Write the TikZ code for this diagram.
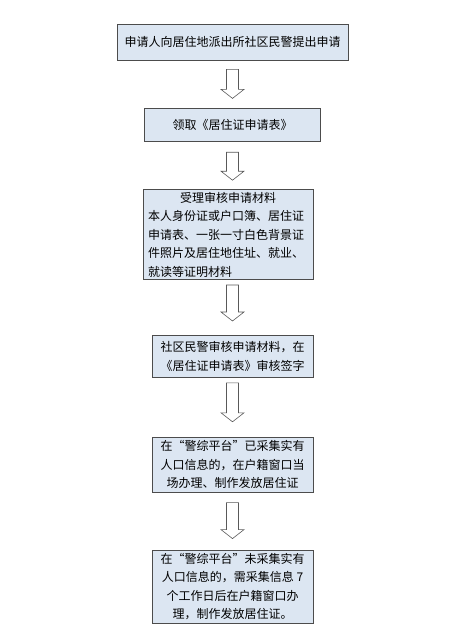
\documentclass[tikz,border=0pt]{standalone}
\usepackage{fontspec}
\setmainfont{Noto Sans CJK SC}
\usetikzlibrary{positioning,calc}
\definecolor{boxblue}{HTML}{DCE6F2}
% hollow block arrow between two boxes: from, to, top gap, bottom gap
\newcommand{\flowarrow}[4]{%
  \draw[bigarrow] let \p1=(axis), \p2=($(#1.south)+(0,-#3pt)$), \p3=($(#2.north)+(0,#4pt)$) in
    (\x1-6pt,\y2) -- (\x1+6pt,\y2) -- (\x1+6pt,\y3+9pt) -- (\x1+11.5pt,\y3+9pt) -- (\x1,\y3)
    -- (\x1-11.5pt,\y3+9pt) -- (\x1-6pt,\y3+9pt) -- cycle;}
\begin{document}
\begin{tikzpicture}[font=\fontsize{12pt}{18.5pt}\selectfont,
  stepbox/.style={rectangle, draw=black!70, line width=0.8pt, fill=boxblue, inner sep=0pt, align=center},
  bigarrow/.style={draw=black!65, line width=0.6pt, fill=white, line join=miter}]
\useasboundingbox (0,0) rectangle (468pt,-640pt);
\coordinate (axis) at (232.5pt,0);

% Верх
\node (apply) [stepbox, minimum width=231pt, minimum height=36pt] at (232.5pt,-42pt) {申请人向居住地派出所社区民警提出申请};
\node (form) [stepbox, minimum width=176pt, minimum height=33pt, below=48pt of apply] {领取《居住证申请表》};

% Материалы
\node (accept) [stepbox, minimum width=170pt, minimum height=90pt, text width=160pt, align=left, below=47pt of form, xshift=-4.5pt] {\makebox[\hsize][c]{受理审核申请材料}\\本人身份证或户口簿、居住证\\申请表、一张一寸白色背景证\\件照片及居住地住址、就业、\\就读等证明材料};
\node (check) [stepbox, minimum width=161pt, minimum height=42pt, below=55pt of accept, xshift=4.5pt] {社区民警审核申请材料，在\\《居住证申请表》审核签字};

% Выдача
\node (issue) [stepbox, minimum width=161pt, minimum height=55pt, below=59pt of check] {在“警综平台”已采集实有\\人口信息的，在户籍窗口当\\场办理、制作发放居住证};
\node (collect) [stepbox, minimum width=161pt, minimum height=73pt, below=57pt of issue] {在“警综平台”未采集实有\\人口信息的，需采集信息 7\\个工作日后在户籍窗口办\\理，制作发放居住证。};

\flowarrow{apply}{form}{9}{10}
\flowarrow{form}{accept}{10}{9}
\flowarrow{accept}{check}{5}{14}
\flowarrow{check}{issue}{5}{15}
\flowarrow{issue}{collect}{10}{11}

\end{tikzpicture}
\end{document}
